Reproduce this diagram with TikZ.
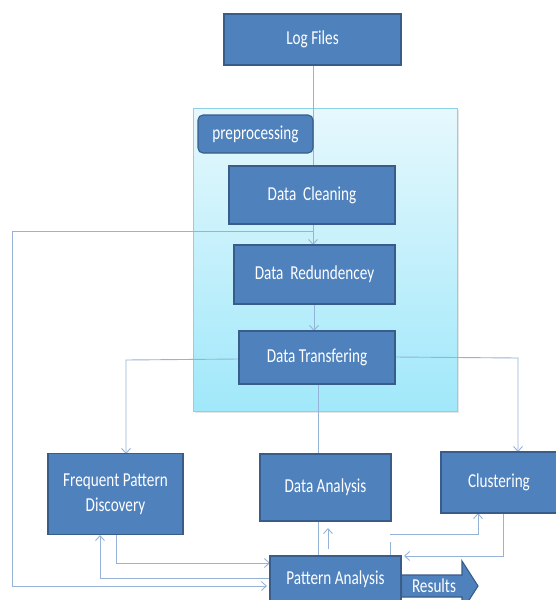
\documentclass[tikz,border=0pt]{standalone}
\usepackage{fontspec}
\setmainfont{Carlito}
\usepackage{graphicx}
\usetikzlibrary{arrows.meta,shadows}
\definecolor{boxfill}{HTML}{4F81BD}
\definecolor{boxedge}{HTML}{385D8A}
\definecolor{linkblue}{HTML}{95B3D7}
\definecolor{paletop}{HTML}{E6F8FD}
\definecolor{palebot}{HTML}{A0E8FA}
\definecolor{paleedge}{HTML}{8FD0E2}
\newcommand\tall[1]{\scalebox{1}[1.3]{#1}}
\tikzset{
  stepbox/.style={draw=boxedge, fill=boxfill, line width=1.1pt, text=white,
    inner sep=0pt, align=center, font=\fontsize{15.2}{19}\selectfont},
  link/.style={draw=linkblue, line width=0.9pt},
  tip/.style={-{Straight Barb[length=5pt,width=9pt,line width=0.9pt]}}
}
\begin{document}
\begin{tikzpicture}[x=1pt,y=-1pt]
\clip (0,0) rectangle (556,600);
\fill[white] (0,0) rectangle (556,600);

% preprocessing container
\node[draw=paleedge, line width=0.8pt, top color=paletop, bottom color=palebot,
  minimum width=264pt, minimum height=303pt, inner sep=0pt,
  drop shadow={opacity=0.2, shadow xshift=1.5pt, shadow yshift=-1.5pt}]
  (cont) at (325,259.5) {};

% connectors
\coordinate (split) at (313,231);
\draw[link] (313,65) -- (313,166);
\draw[link,tip] (313,224) -- (313,245);
\draw[link,tip] (split) -- (12,231) -- (12,586) -- (267,586);
\draw[link,tip] (314,304) -- (314,331);
\draw[link,tip] (239,359) -- (126,360) -- (126,454);
\draw[link,tip] (395,357) -- (518,358) -- (518,452);
\draw[link] (318,384) -- (318,454);
\draw[link] (318,521) -- (318,556);
\coordinate (upfrom) at (328,549);
\coordinate (upto) at (328,528);
\draw[link,tip] (upfrom) -- (upto);
\draw[link,tip] (116,535) -- (116,563) -- (270,563);
\draw[link,tip] (270,578) -- (100,578) -- (100,535);
\coordinate (clusfeed) at (390,534);
\draw[link,tip] (clusfeed) -- (478,534) -- (478,513);
\coordinate (stubtop) at (390,542);
\coordinate (stubbot) at (390,555);
\draw[link] (stubtop) -- (stubbot);
\draw[link,tip] (503,513) -- (503,556) -- (404,556);

% boxes
\node[stepbox, minimum width=177pt, minimum height=51pt] (logf) at (312.5,39.5) {\tall{Log Files}};
\node[stepbox, rounded corners=5pt, minimum width=115pt, minimum height=38pt] (prep) at (255.5,134) {\tall{preprocessing}};
\node[stepbox, minimum width=166pt, minimum height=58pt] (clean) at (312,195) {\tall{Data\ \ Cleaning}};
\node[stepbox, minimum width=161pt, minimum height=59pt] (redun) at (314.5,274.5) {\tall{Data\ \ Redundencey}};
\node[stepbox, minimum width=156pt, minimum height=53pt] (transf) at (317,357.5) {\tall{Data Transfering}};
\node[stepbox, minimum width=135pt, minimum height=81pt] (fpd) at (115.5,494) {\tall{\begin{tabular}{@{}c@{}}Frequent Pattern\\Discovery\end{tabular}}};
\node[stepbox, minimum width=131pt, minimum height=67pt] (dana) at (325.5,487.5) {\tall{Data Analysis}};
\node[stepbox, minimum width=116pt, minimum height=61pt] (clus) at (499,482.5) {\tall{Clustering}};
\node[stepbox, minimum width=131pt, minimum height=46pt] (patt) at (335.5,579) {\tall{Pattern Analysis}};

% results block arrow
\draw[draw=boxedge, fill=boxfill, line width=1.1pt]
  (patt.east |- 0,575) -- (462,575) -- (462,561) -- (478,586) -- (462,611)
  -- (462,597) -- (patt.east |- 0,597) -- cycle;
\node[text=white, font=\fontsize{15.2}{19}\selectfont, inner sep=0pt] (res) at (434,586) {\tall{Results}};
\end{tikzpicture}
\end{document}
